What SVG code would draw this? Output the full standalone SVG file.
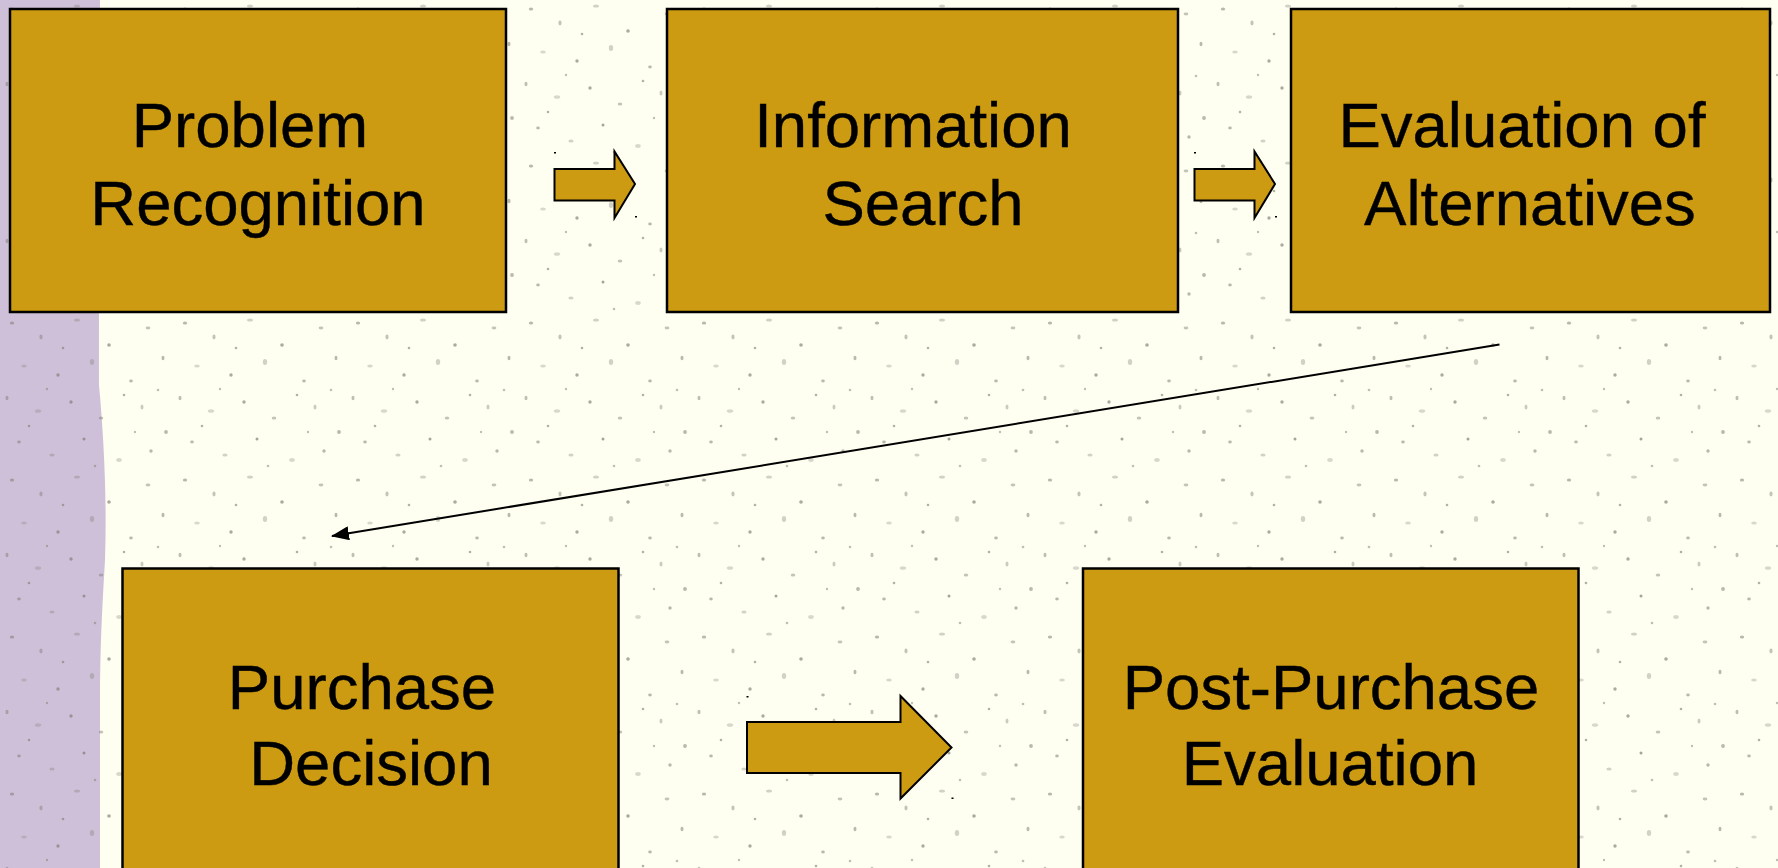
<svg xmlns="http://www.w3.org/2000/svg" width="1778" height="868" viewBox="0 0 1778 868">
  <defs>
    <style>
      .box { fill: #CC9B12; stroke: #000; stroke-width: 2.5; }
      .blk { fill: #CC9B12; stroke: #000; stroke-width: 2; stroke-linejoin: miter; }
      .lbl { font-family: "Liberation Sans", Arial, sans-serif; font-size: 63.5px; fill: #000; stroke: #000; stroke-width: 0.4; text-anchor: middle; }
      .tick { fill: #000; }
      .link { stroke: #000; stroke-width: 2; fill: none; }
    </style>
    <marker id="tri" viewBox="0 0 18 14" refX="17" refY="7" markerWidth="18" markerHeight="14" markerUnits="userSpaceOnUse" orient="auto">
      <path d="M0,0 L18,7 L0,14 Z" fill="#000"/>
    </marker>
    <!-- scattered paper flecks -->
    <pattern id="flecks" width="173" height="157" patternUnits="userSpaceOnUse">
      <g fill="#7d7d74">
        <ellipse cx="12" cy="9" rx="2.2" ry="1.5" opacity="0.55"/>
        <ellipse cx="41" cy="23" rx="1.6" ry="2.4" opacity="0.45"/>
        <ellipse cx="77" cy="6" rx="3.0" ry="1.6" opacity="0.35"/>
        <ellipse cx="109" cy="31" rx="1.8" ry="1.8" opacity="0.65"/>
        <ellipse cx="148" cy="14" rx="2.4" ry="1.4" opacity="0.45"/>
        <ellipse cx="163" cy="44" rx="1.5" ry="2.3" opacity="0.55"/>
        <ellipse cx="24" cy="52" rx="2.8" ry="1.6" opacity="0.3"/>
        <ellipse cx="58" cy="61" rx="1.7" ry="1.7" opacity="0.65"/>
        <ellipse cx="92" cy="48" rx="2.2" ry="3.0" opacity="0.35"/>
        <ellipse cx="131" cy="67" rx="1.8" ry="1.4" opacity="0.55"/>
        <ellipse cx="7" cy="84" rx="1.5" ry="2.2" opacity="0.5"/>
        <ellipse cx="38" cy="97" rx="3.2" ry="1.8" opacity="0.3"/>
        <ellipse cx="71" cy="88" rx="1.7" ry="1.7" opacity="0.65"/>
        <ellipse cx="101" cy="104" rx="2.3" ry="1.5" opacity="0.45"/>
        <ellipse cx="142" cy="93" rx="1.5" ry="2.6" opacity="0.4"/>
        <ellipse cx="166" cy="118" rx="1.9" ry="1.9" opacity="0.55"/>
        <ellipse cx="19" cy="128" rx="1.8" ry="1.4" opacity="0.55"/>
        <ellipse cx="52" cy="141" rx="2.6" ry="1.6" opacity="0.35"/>
        <ellipse cx="84" cy="125" rx="1.5" ry="1.5" opacity="0.7"/>
        <ellipse cx="119" cy="146" rx="2.8" ry="1.9" opacity="0.3"/>
        <ellipse cx="151" cy="137" rx="1.7" ry="1.7" opacity="0.55"/>
        <ellipse cx="63" cy="34" rx="1.3" ry="1.3" opacity="0.6"/>
        <ellipse cx="124" cy="81" rx="1.3" ry="1.3" opacity="0.6"/>
        <ellipse cx="29" cy="112" rx="1.3" ry="1.3" opacity="0.6"/>
        <ellipse cx="158" cy="76" rx="1.3" ry="1.3" opacity="0.5"/>
        <ellipse cx="95" cy="152" rx="1.3" ry="1.3" opacity="0.5"/>
        <ellipse cx="135" cy="118" rx="1.2" ry="1.2" opacity="0.5"/>
        <ellipse cx="47" cy="75" rx="1.2" ry="1.2" opacity="0.5"/>
      </g>
    </pattern>
  </defs>

  <!-- backdrop: cream paper with lavender band on the left -->
  <rect x="0" y="0" width="1778" height="868" fill="#FEFEF1"/>
  <path d="M0,0 L100,0 C99,150 99,300 99,385 C104,440 107,500 105,560 C102,610 100,650 100,700 L100,868 L0,868 Z" fill="#CEC0D8"/>
  <rect x="0" y="0" width="1778" height="868" fill="url(#flecks)"/>

  <g id="node-problem-recognition">
    <rect class="box" x="10" y="9" width="496" height="303"/>
    <text class="lbl" x="250" y="147">Problem</text>
    <text class="lbl" x="258" y="225">Recognition</text>
  </g>

  <g id="node-information-search">
    <rect class="box" x="667" y="9" width="511" height="303"/>
    <text class="lbl" x="913" y="147">Information</text>
    <text class="lbl" x="923" y="225">Search</text>
  </g>

  <g id="node-evaluation-of-alternatives">
    <rect class="box" x="1291" y="9" width="479" height="303"/>
    <text class="lbl" x="1522" y="147">Evaluation of</text>
    <text class="lbl" x="1530" y="225">Alternatives</text>
  </g>

  <g id="node-purchase-decision">
    <rect class="box" x="122.5" y="568.5" width="496" height="320"/>
    <text class="lbl" x="362" y="709">Purchase</text>
    <text class="lbl" x="371" y="785">Decision</text>
  </g>

  <g id="node-post-purchase-evaluation">
    <rect class="box" x="1083" y="568.5" width="495.5" height="320"/>
    <text class="lbl" x="1331" y="709">Post-Purchase</text>
    <text class="lbl" x="1330" y="785">Evaluation</text>
  </g>

  <g id="connectors">
    <!-- block arrows -->
    <polygon class="blk" points="554.5,169 614.5,169 614.5,151.5 635,184 614.5,218 614.5,200.5 554.5,200.5"/>
    <rect class="tick" x="554" y="152" width="2" height="1.5"/>
    <rect class="tick" x="635" y="216" width="2" height="1.5"/>

    <polygon class="blk" points="1194.5,169 1254.5,169 1254.5,151.5 1275,184 1254.5,218 1254.5,200.5 1194.5,200.5"/>
    <rect class="tick" x="1194" y="152" width="2" height="1.5"/>
    <rect class="tick" x="1275" y="216" width="2" height="1.5"/>

    <polygon class="blk" points="747,722 900.5,722 900.5,696 951.5,747.5 900.5,798.5 900.5,773 747,773"/>
    <rect class="tick" x="746.5" y="696" width="2" height="1.5"/>
    <rect class="tick" x="951.5" y="797.5" width="2" height="1.5"/>

    <!-- return line from Evaluation of Alternatives to Purchase Decision -->
    <line class="link" x1="1499.5" y1="344.5" x2="332" y2="536" marker-end="url(#tri)"/>
  </g>
</svg>
